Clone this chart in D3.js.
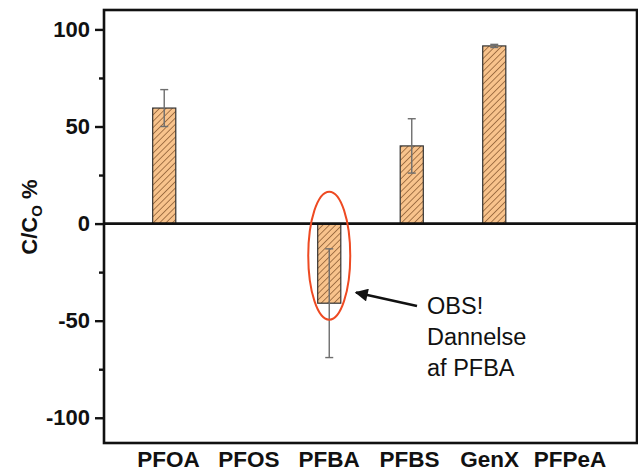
<!DOCTYPE html>
<html><head><meta charset="utf-8">
<script src="https://cdn.jsdelivr.net/npm/d3@7"></script>
<style>body{margin:0;background:#fff}</style>
</head><body>
<svg id="c" width="638" height="472"></svg>
<script>
const categories = ["PFOA","PFOS","PFBA","PFBS","GenX","PFPeA"];
const values     = [59.5, null, -41, 40, 91.5, null];
const errors     = [9.5, null, 28, 14, 0.8, null];
const yTicks     = [-100, -50, 0, 50, 100];
const yMinor     = [-75, -25, 25, 75];
const annotLines = ["OBS!", "Dannelse", "af PFBA"];
const annotTarget = "PFBA";
const annotCenterY = -16.5;

const W = 638, H = 472;
const L = 104, R = 637, T = 10, B = 443;
const svg = d3.select("#c");
const font = "'Liberation Sans', Arial, Helvetica, sans-serif";

const x = d3.scaleBand().domain(categories).range([L, R]).paddingInner(0.72).paddingOuter(0.59);
const xLab = d3.scalePoint().domain(categories).range([168.5, 570]);
const y = d3.scaleLinear().domain([-113, 110]).range([B, T]);

// hatch pattern
const defs = svg.append("defs");
const pat = defs.append("pattern").attr("id","hatch").attr("patternUnits","userSpaceOnUse")
  .attr("width",4.5).attr("height",4.5).attr("patternTransform","rotate(45)");
pat.append("rect").attr("width",4.5).attr("height",4.5).attr("fill","#f8c38c");
pat.append("line").attr("x1",0).attr("y1",0).attr("x2",0).attr("y2",4.5)
  .attr("stroke","#8a5a32").attr("stroke-width",1.5);

const data = categories.map((c,i)=>({c, v: values[i], e: errors[i]})).filter(d=>d.v!==null);

// bars
svg.append("g").selectAll("rect").data(data).join("rect")
  .attr("x", d=>x(d.c)).attr("width", x.bandwidth())
  .attr("y", d=>y(Math.max(0,d.v))).attr("height", d=>Math.abs(y(d.v)-y(0)))
  .attr("fill","url(#hatch)").attr("stroke","#333").attr("stroke-width",1.2);

// error bars
const eb = svg.append("g").attr("stroke","#6e6e6e").attr("stroke-width",1.4).attr("fill","none");
data.forEach(d=>{
  const cx = x(d.c)+x.bandwidth()/2;
  eb.append("line").attr("x1",cx).attr("x2",cx).attr("y1",y(d.v+d.e)).attr("y2",y(d.v-d.e));
  [d.v+d.e, d.v-d.e].forEach(v=>eb.append("line").attr("x1",cx-4).attr("x2",cx+4).attr("y1",y(v)).attr("y2",y(v)));
});

// frame
svg.append("rect").attr("x",L).attr("y",T).attr("width",R-L).attr("height",B-T)
  .attr("fill","none").attr("stroke","#111").attr("stroke-width",2.6);
// zero line
svg.append("line").attr("x1",L).attr("x2",W).attr("y1",y(0)).attr("y2",y(0))
  .attr("stroke","#111").attr("stroke-width",2.8);

// y axis
const yAxis = d3.axisLeft(y).tickValues(yTicks).tickSize(9).tickPadding(5).tickFormat(d=>String(d));
const ga = svg.append("g").attr("transform",`translate(${L},0)`).call(yAxis);
ga.select(".domain").remove();
ga.selectAll(".tick line").attr("stroke","#111").attr("stroke-width",2.4);
ga.selectAll(".tick text").attr("font-family",font).attr("font-size",22).attr("font-weight","bold").attr("fill","#111");
const ym = svg.append("g").attr("transform",`translate(${L},0)`).call(d3.axisLeft(y).tickValues(yMinor).tickSize(5).tickFormat(""));
ym.select(".domain").remove();
ym.selectAll(".tick line").attr("stroke","#111").attr("stroke-width",2.4);

// x labels
svg.append("g").selectAll("text").data(categories).join("text")
  .attr("x", d=>xLab(d)).attr("y", 467)
  .attr("text-anchor","middle").attr("font-family",font).attr("font-size",22.5).attr("font-weight","bold")
  .attr("fill","#111").text(d=>d);

// y title
const yt = svg.append("text").attr("transform","translate(37,217) rotate(-90)")
  .attr("text-anchor","middle").attr("font-family",font).attr("font-size",22).attr("font-weight","bold").attr("fill","#111");
yt.append("tspan").text("C/C");
yt.append("tspan").attr("font-size",15).attr("dy",5).text("O");
yt.append("tspan").attr("dy",-5).text(" %");

// annotation ellipse
const ax = x(annotTarget)+x.bandwidth()/2;
svg.append("ellipse").attr("cx",ax).attr("cy",y(annotCenterY)).attr("rx",21).attr("ry",64)
  .attr("fill","none").attr("stroke","#ee4a22").attr("stroke-width",2);

// arrow
defs.append("marker").attr("id","ah").attr("viewBox","0 0 10 10").attr("refX",9).attr("refY",5)
  .attr("markerWidth",5.5).attr("markerHeight",5).attr("orient","auto").attr("markerUnits","strokeWidth")
  .append("path").attr("d","M0,0 L10,5 L0,10 Z").attr("fill","#111");
svg.append("line").attr("x1",417).attr("y1",306).attr("x2",356).attr("y2",292.5)
  .attr("stroke","#111").attr("stroke-width",2.6).attr("marker-end","url(#ah)");

// annotation text
svg.append("g").selectAll("text").data(annotLines).join("text")
  .attr("x",427).attr("y",(d,i)=>314+i*31)
  .attr("font-family",font).attr("font-size",23.5).attr("fill","#111").text(d=>d);
</script>
</body></html>
